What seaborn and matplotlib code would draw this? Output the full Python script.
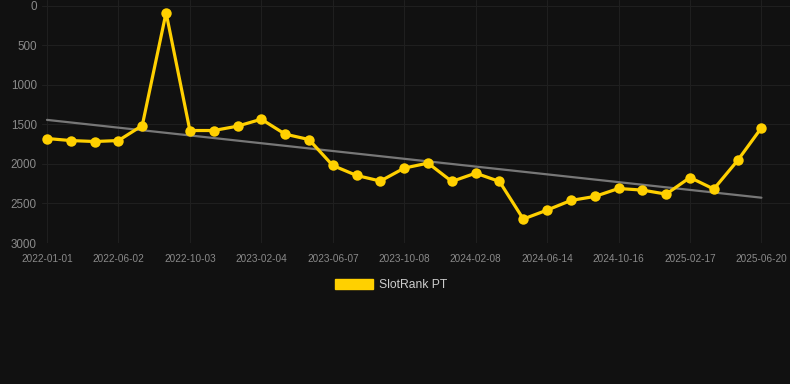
import matplotlib
matplotlib.use("Agg")
import matplotlib.pyplot as plt
import matplotlib.patches as mpatches
import seaborn as sns
import pandas as pd
import numpy as np

# Data
tick_labels = ["2022-01-01", "2022-06-02", "2022-10-03", "2023-02-04", "2023-06-07",
               "2023-10-08", "2024-02-08", "2024-06-14", "2024-10-16", "2025-02-17",
               "2025-06-20"]
rank_values = [1679, 1705, 1717, 1705, 1515, 88, 1578, 1578, 1523, 1435,
               1624, 1692, 2020, 2146, 2217, 2053, 1990, 2222, 2117, 2222,
               2697, 2584, 2462, 2412, 2311, 2331, 2382, 2172, 2318, 1957,
               1544]
series_name = "SlotRank PT"

df = pd.DataFrame({"idx": np.arange(len(rank_values)), "rank": rank_values})

BG = "#111111"
YELLOW = "#FFD000"

sns.set_theme(style="dark")
plt.rcParams["font.family"] = ["Liberation Sans", "DejaVu Sans"]

fig = plt.figure(figsize=(7.9, 3.84), dpi=100, facecolor=BG)
ax = fig.add_axes([42 / 790, 1 - 243 / 384, 1 - 42 / 790, 243 / 384])
ax.set_facecolor(BG)

# trend line (linear regression)
sns.regplot(data=df, x="idx", y="rank", scatter=False, ci=None, ax=ax,
            color="#777777", line_kws={"linewidth": 1.6, "zorder": 2})

sns.lineplot(data=df, x="idx", y="rank", ax=ax, color=YELLOW, linewidth=2.3,
             marker="o", markersize=7.5, markeredgewidth=0, zorder=3)

ax.set_xlim(-0.21, 31.2)
ax.set_ylim(3000, -72)
ax.set_yticks([0, 500, 1000, 1500, 2000, 2500, 3000])
ax.set_yticklabels(["0", "500", "1000", "1500", "2000", "2500", "3000"])
ax.set_xticks(np.arange(0, len(rank_values), 3))
ax.set_xticklabels(tick_labels)

ax.grid(True, color="#1f1f1f", linewidth=0.8)
ax.set_axisbelow(True)
for s in ax.spines.values():
    s.set_visible(False)
ax.tick_params(axis="y", colors="#8a8a8a", labelsize=8.4, length=0, pad=3.8)
ax.tick_params(axis="x", colors="#8a8a8a", labelsize=7.2, length=0, pad=8)
ax.set_xlabel("")
ax.set_ylabel("")

handle = mpatches.Patch(facecolor=YELLOW, edgecolor=YELLOW, label=series_name)
leg = fig.legend(handles=[handle], loc="center", bbox_to_anchor=(0.495, 1 - 285 / 384),
                 frameon=False, handlelength=3.2, handleheight=0.9, handletextpad=0.5,
                 fontsize=8.7)
for t in leg.get_texts():
    t.set_color("#cccccc")

fig.savefig("out.png", dpi=100, facecolor=BG)
